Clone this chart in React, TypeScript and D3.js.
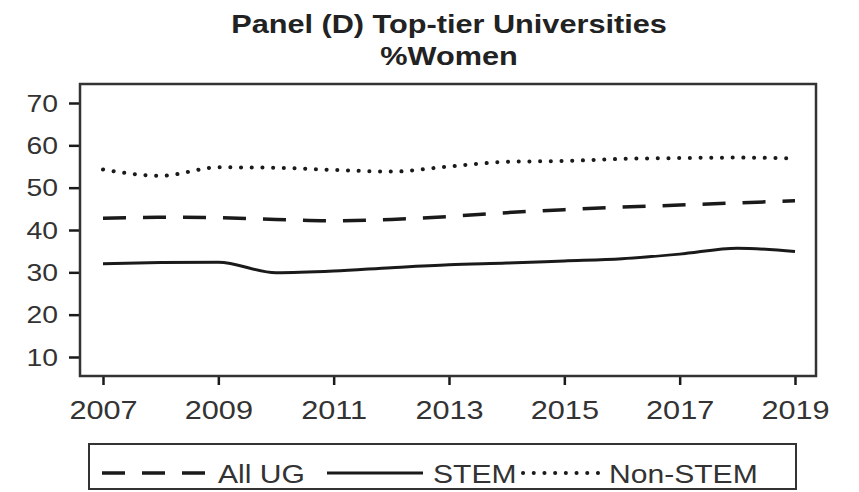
import React, { useEffect, useRef } from "react";
import * as d3 from "d3";

// values
const years = [2007, 2008, 2009, 2010, 2011, 2012, 2013, 2014, 2015, 2016, 2017, 2018, 2019];
const allUG = [42.8, 43.0, 42.9, 42.5, 42.2, 42.5, 43.2, 44.1, 44.8, 45.4, 45.9, 46.4, 46.9];
const stem = [32.0, 32.3, 32.4, 29.9, 30.3, 31.1, 31.8, 32.2, 32.7, 33.2, 34.3, 35.7, 34.9];
const nonStem = [54.3, 52.8, 54.8, 54.7, 54.2, 53.8, 55.0, 56.1, 56.3, 56.8, 57.0, 57.1, 56.9];
const yTicks = [10, 20, 30, 40, 50, 60, 70];
const xTicks = [2007, 2009, 2011, 2013, 2015, 2017, 2019];

const FONT = "'Liberation Sans', Arial, Helvetica, sans-serif";
const INK = "#1a1a1a";
const SX = 1.18; // the source is stretched sideways a bit

const App = () => {
  const svgRef = useRef<SVGSVGElement>(null);

  useEffect(() => {
    const width = 859;
    const height = 492;
    const box = { left: 80, top: 84, right: 816, bottom: 376 };

    const svg = d3.select(svgRef.current);
    svg.selectAll("*").remove();
    svg.attr("width", width).attr("height", height);

    const x = d3.scaleLinear().domain([2007, 2019]).range([103, 795]);
    const y = d3.scaleLinear().domain([10, 70]).range([357, 103]);

    // title
    ["Panel (D) Top-tier Universities", "%Women"].forEach((t, i) => {
      svg.append("text")
        .attr("transform", `translate(449,${33 + i * 32}) scale(${SX},1)`)
        .attr("text-anchor", "middle")
        .style("font-family", FONT)
        .style("font-weight", "bold")
        .style("font-size", "26px")
        .attr("fill", "#222")
        .text(t);
    });

    // axes
    const yAxis = svg.append("g")
      .attr("transform", `translate(${box.left},0)`)
      .call(d3.axisLeft(y).tickValues(yTicks).tickSize(11).tickSizeOuter(0));
    yAxis.select(".domain").remove();
    yAxis.selectAll("line").attr("stroke", INK).attr("stroke-width", 2.5);
    yAxis.selectAll("text")
      .attr("x", -22 / SX)
      .attr("dy", "0.34em")
      .attr("transform", `scale(${SX},1)`)
      .style("font-family", FONT)
      .style("font-size", "24px")
      .attr("fill", "#333");

    const xAxis = svg.append("g")
      .attr("transform", `translate(0,${box.bottom})`)
      .call(d3.axisBottom(x).tickValues(xTicks).tickFormat(d3.format("d")).tickSize(9).tickSizeOuter(0));
    xAxis.select(".domain").remove();
    xAxis.selectAll("line").attr("stroke", INK).attr("stroke-width", 2.5);
    xAxis.selectAll("text")
      .attr("y", 43)
      .attr("dy", 0)
      .attr("transform", `scale(${SX},1)`)
      .style("font-family", FONT)
      .style("font-size", "26px")
      .attr("fill", "#333");

    // plot frame
    svg.append("rect")
      .attr("x", box.left)
      .attr("y", box.top)
      .attr("width", box.right - box.left)
      .attr("height", box.bottom - box.top)
      .attr("fill", "none")
      .attr("stroke", "#333")
      .attr("stroke-width", 2.5);

    const series = [
      { name: "All UG", values: allUG, dash: "23 17", cap: "butt", w: 3.5 },
      { name: "STEM", values: stem, dash: null, cap: "butt", w: 3 },
      { name: "Non-STEM", values: nonStem, dash: "0.1 10.6", cap: "round", w: 4 },
    ];

    const line = d3.line<number>()
      .x((_, i) => x(years[i]))
      .y((d) => y(d))
      .curve(d3.curveMonotoneX);

    series.forEach((s) => {
      svg.append("path")
        .datum(s.values)
        .attr("d", line)
        .attr("fill", "none")
        .attr("stroke", INK)
        .attr("stroke-width", s.w)
        .attr("stroke-linecap", s.cap)
        .attr("stroke-dasharray", s.dash);
    });

    // legend
    const lg = svg.append("g");
    lg.append("rect")
      .attr("x", 89)
      .attr("y", 444)
      .attr("width", 707)
      .attr("height", 45)
      .attr("fill", "none")
      .attr("stroke", "#333")
      .attr("stroke-width", 2);

    const legendItems = [
      { s: series[0], x0: 102, x1: 205, tx: 218 },
      { s: series[1], x0: 327, x1: 423, tx: 433 },
      { s: series[2], x0: 523, x1: 606, tx: 609 },
    ];
    legendItems.forEach((it) => {
      lg.append("line")
        .attr("x1", it.x0)
        .attr("x2", it.x1)
        .attr("y1", 473)
        .attr("y2", 473)
        .attr("stroke", INK)
        .attr("stroke-width", it.s.w)
        .attr("stroke-linecap", it.s.cap)
        .attr("stroke-dasharray", it.s.dash);
      lg.append("text")
        .attr("transform", `translate(${it.tx},483) scale(${SX},1)`)
        .style("font-family", FONT)
        .style("font-size", "25.5px")
        .attr("fill", "#333")
        .text(it.s.name);
    });
  }, []);

  return (
    <svg
      ref={svgRef}
      style={{ position: "absolute", left: 0, top: 0, display: "block", background: "white" }}
    />
  );
};

export default App;
